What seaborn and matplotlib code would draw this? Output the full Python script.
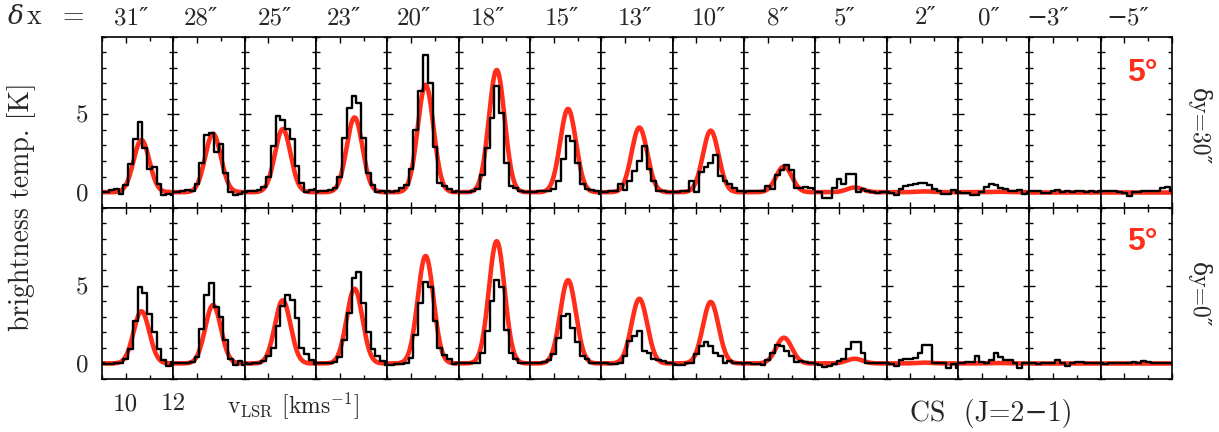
import numpy as np
import matplotlib
matplotlib.use("Agg")
import matplotlib.pyplot as plt
import seaborn as sns
from matplotlib.ticker import MultipleLocator, FixedLocator

# ---------------- data ----------------
velocity = [9.0, 9.2, 9.4, 9.6, 9.8, 10.0, 10.2, 10.4, 10.6, 10.8,
            11.0, 11.2, 11.4, 11.6, 11.8, 12.0]

offset_labels = ["31″", "28″", "25″", "23″", "20″", "18″", "15″", "13″",
                 "10″", "8″", "5″", "2″", "0″", "−3″", "−5″"]
row_labels = ["δy=30″", "δy=0″"]
y_tick_values = [0, 5]
x_tick_values = [10, 12]

# observed spectra, row dy = 30"
tb_dy30 = [
    [0.0, 0.0, 0.15, 0.2, -0.1, 0.45, 1.8, 3.4, 4.5, 2.85, 1.5, 1.6, 0.5, -0.2, -0.1, -0.15],
    [0.0, 0.0, 0.1, 0.15, 0.1, 0.55, 1.9, 3.7, 3.8, 2.6, 3.1, 1.2, 0.0, -0.2, -0.1, 0.0],
    [0.0, 0.05, 0.1, 0.15, 0.35, 1.0, 2.95, 4.9, 4.66, 4.06, 3.4, 1.7, 0.6, 0.0, 0.15, 0.2],
    [0.0, 0.05, 0.1, 0.15, 0.3, 1.0, 3.5, 5.4, 6.2, 5.7, 3.5, 1.2, 0.45, 0.0, 0.1, -0.05],
    [0.05, 0.0, 0.1, 0.3, 0.45, 1.47, 4.0, 6.5, 8.8, 7.0, 2.9, 0.6, 0.4, 0.2, 0.0, 0.05],
    [0.0, 0.0, 0.0, 0.05, 0.2, 1.1, 2.87, 4.77, 6.85, 5.1, 1.85, 0.4, 0.3, 0.1, 0.0, 0.0],
    [0.0, 0.0, 0.05, 0.05, 0.1, 0.2, 0.7, 2.15, 3.64, 3.27, 1.9, 0.5, 0.2, 0.15, 0.05, -0.1],
    [0.0, 0.0, 0.05, 0.05, 0.5, 0.15, 0.72, 1.36, 2.0, 2.96, 1.47, 0.7, 0.1, 0.05, 0.0, 0.0],
    [0.0, 0.0, 0.05, 0.05, 0.72, 0.0, 1.27, 1.59, 1.9, 2.42, 1.06, 0.72, 0.5, 0.3, 0.05, 0.05],
    [0.0, 0.05, 0.05, 0.1, 0.05, 0.4, 0.2, 1.1, 1.45, 1.75, 1.4, 0.25, 0.3, 0.35, 0.3, 0.2],
    [0.0, 0.0, -0.35, -0.35, 0.3, 0.83, 0.5, 1.15, 1.15, 0.0, 0.2, 0.05, 0.0, -0.05, 0.0, 0.0],
    [0.0, -0.05, -0.15, 0.2, 0.4, 0.45, 0.5, 0.6, 0.6, 0.45, 0.2, 0.05, -0.1, -0.1, 0.15, -0.05],
    [0.0, -0.05, -0.05, -0.2, -0.2, 0.0, 0.35, 0.5, 0.45, 0.3, 0.2, 0.1, 0.05, 0.15, -0.1, 0.0],
    [0.05, 0.05, 0.05, -0.05, -0.05, 0.05, 0.15, 0.0, 0.05, 0.0, 0.05, 0.1, 0.0, 0.1, 0.0, 0.05],
    [0.1, 0.1, 0.05, 0.1, 0.0, -0.05, -0.25, 0.0, 0.0, 0.05, 0.05, 0.05, 0.1, 0.25, 0.35, 0.05],
]

# observed spectra, row dy = 0"
tb_dy0 = [
    [0.0, -0.05, -0.05, 0.0, 0.05, 0.3, 0.9, 2.7, 4.9, 4.5, 3.2, 2.05, 0.9, 0.25, -0.15, 0.1],
    [0.0, 0.0, 0.05, 0.05, 0.1, 0.4, 2.2, 4.4, 5.15, 3.6, 3.0, 1.5, 0.3, -0.1, 0.15, -0.1],
    [0.0, -0.05, 0.0, 0.05, 0.15, 0.5, 1.0, 2.4, 3.7, 4.4, 4.1, 2.9, 1.0, 0.6, 0.25, -0.05],
    [0.0, 0.0, 0.05, 0.05, 0.1, 0.4, 1.5, 3.25, 5.5, 5.9, 3.9, 2.05, 0.9, 0.45, 0.15, -0.1],
    [-0.1, -0.1, -0.05, -0.05, 0.05, 0.35, 1.85, 3.87, 5.2, 4.93, 2.7, 1.0, 0.57, 0.26, -0.06, 0.05],
    [0.0, 0.0, 0.0, 0.0, 0.05, 0.68, 2.06, 4.0, 5.36, 4.93, 2.17, 0.68, 0.26, 0.05, 0.0, 0.0],
    [0.0, 0.0, 0.05, 0.1, 0.25, 0.6, 1.66, 3.04, 3.2, 2.3, 1.36, 0.5, 0.26, 0.05, 0.05, 0.05],
    [0.0, 0.0, -0.05, -0.05, 0.05, 0.5, 1.45, 1.77, 2.09, 0.8, 0.7, 0.3, 0.2, 0.15, 0.05, 0.0],
    [-0.05, -0.1, -0.1, 0.0, 0.05, 0.6, 1.1, 1.36, 1.1, 0.65, 0.5, 0.0, 0.15, 0.05, 0.0, -0.05],
    [0.0, 0.0, -0.05, -0.05, -0.1, 0.25, 0.64, 1.2, 1.1, 0.8, 0.5, 0.08, 0.15, 0.1, 0.05, 0.0],
    [-0.05, -0.1, -0.25, -0.15, -0.05, 0.15, 0.3, 0.9, 1.36, 1.36, 0.64, 0.0, 0.05, 0.0, 0.05, 0.0],
    [0.0, -0.05, -0.15, 0.2, 0.3, 0.3, 0.35, 0.64, 1.2, 1.2, 0.0, 0.0, 0.05, -0.3, -0.05, -0.3],
    [0.0, 0.05, 0.1, 0.1, 0.45, 0.1, 0.05, 0.2, 0.64, 0.4, 0.25, 0.2, 0.05, -0.3, 0.0, 0.0],
    [0.0, 0.05, -0.05, 0.0, 0.05, 0.0, 0.2, 0.05, -0.15, 0.05, 0.1, 0.1, 0.05, 0.0, 0.05, 0.0],
    [0.0, -0.05, 0.0, 0.0, 0.05, 0.0, 0.05, 0.1, 0.05, 0.15, 0.1, 0.05, 0.05, 0.0, 0.0, 0.05],
]

# model (Gaussian line) parameters
model_peak = [3.35, 3.75, 4.05, 4.8, 6.9, 7.85, 5.35, 4.15, 3.95, 1.65, 0.3, 0.05, 0.03, 0.0, 0.0]
model_center = [10.66, 10.67, 10.6, 10.62, 10.61, 10.6, 10.6, 10.6, 10.6, 10.68, 10.65, 10.6, 10.6, 10.6, 10.6]
model_fwhm = 0.78
model_label = "5°"

# ---------------- style ----------------
sns.set_theme(style="ticks")
plt.rcParams["font.family"] = ["cmr10", "DejaVu Serif", "DejaVu Sans"]
plt.rcParams["mathtext.fontset"] = "cm"
plt.rcParams["axes.formatter.use_mathtext"] = False

RED = "#ff2d1a"
W, H = 1219, 432

fig, axes = plt.subplots(2, 15, figsize=(W / 100, H / 100), dpi=100,
                         sharex=True, sharey=True)
fig.patch.set_facecolor("white")
fig.subplots_adjust(left=102 / W, right=1172 / W, top=1 - 36.5 / H,
                    bottom=1 - 379 / H, wspace=0, hspace=0)

vfine = np.linspace(9.0, 12.0, 301)
sig = model_fwhm / 2.3548

for r, rows in enumerate([tb_dy30, tb_dy0]):
    for c in range(15):
        ax = axes[r, c]
        ax.set_facecolor("white")
        model = model_peak[c] * np.exp(-0.5 * ((vfine - model_center[c]) / sig) ** 2)
        sns.lineplot(x=vfine, y=model, ax=ax, color=RED, lw=3.3,
                     estimator=None, solid_capstyle="butt")
        sns.lineplot(x=velocity, y=rows[c], ax=ax, color="black", lw=1.7,
                     estimator=None, drawstyle="steps-mid")
        ax.set_xlim(9.0, 12.0)
        ax.set_ylim(-1.0, 10.0)
        ax.set_xlabel("")
        ax.set_ylabel("")
        ax.xaxis.set_major_locator(FixedLocator(x_tick_values))
        ax.xaxis.set_minor_locator(MultipleLocator(1))
        ax.yaxis.set_major_locator(FixedLocator(y_tick_values))
        ax.yaxis.set_minor_locator(MultipleLocator(1))
        ax.tick_params(which="both", direction="in", top=True, right=True,
                       bottom=True, left=True, width=1.0, color="black",
                       labelleft=(c == 0), labelbottom=(r == 1 and c == 0),
                       labelsize=18)
        ax.tick_params(which="major", length=4.5)
        ax.tick_params(which="minor", length=3.2)
        ax.tick_params(axis="y", pad=10)
        ax.tick_params(axis="x", pad=10)
        for sp in ax.spines.values():
            sp.set_linewidth(1.2)
            sp.set_color("black")
        if c == 14:
            ax.text(0.80, 0.875 if r == 0 else 0.885, model_label,
                    transform=ax.transAxes, ha="right", va="top",
                    color=RED, fontsize=23, fontweight="bold",
                    family="Liberation Sans")

# column labels (offsets in x)
col_label_px = [131.7, 200.8, 274.7, 344.2, 414.0, 488.3, 561.7, 635.0,
                708.7, 778.3, 845.0, 925.8, 989.2, 1048.3, 1128.3]
for c, lab in enumerate(offset_labels):
    fig.text(col_label_px[c] / W, 1 - 24.5 / H, lab, ha="center",
             va="baseline", fontsize=18)

fig.text(8 / W, 1 - 24.5 / H, "δ", ha="left", va="baseline", fontsize=19,
         style="italic", family="DejaVu Serif")
fig.text(27 / W, 1 - 24.5 / H, "x", ha="left", va="baseline", fontsize=20)
fig.text(62 / W, 1 - 24.5 / H, "=", ha="left", va="baseline", fontsize=20)

fig.text(1199 / W, 1 - 127 / H, row_labels[0], rotation=270, ha="center",
         va="center", fontsize=17)
fig.text(1199 / W, 1 - 295 / H, row_labels[1], rotation=270, ha="center",
         va="center", fontsize=17)

fig.text(22 / W, 1 - 207 / H, "brightness temp. [K]", rotation=90,
         ha="center", va="center", fontsize=20)
fig.text(227 / W, 1 - 413.5 / H, r"v$_{\rm LSR}$ [kms$^{-1}$]",
         ha="left", va="baseline", fontsize=17)
fig.text(910 / W, 1 - 421.5 / H, "CS  (J=2−1)", ha="left", va="baseline",
         fontsize=20)

fig.savefig("out.png", dpi=100, facecolor="white")
